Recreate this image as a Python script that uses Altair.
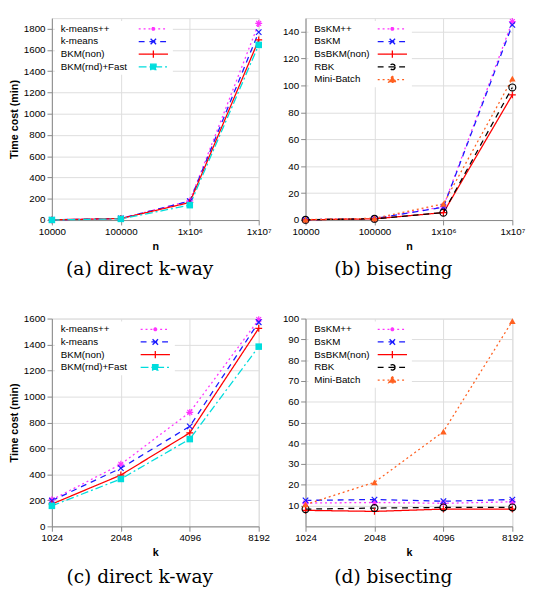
import altair as alt
import pandas as pd

# ---------------- data ----------------
n_values = [10000, 100000, 1000000, 10000000]
n_labels = ["10000", "100000", "1x10\u2076", "1x10\u2077"]
k_values = [1024, 2048, 4096, 8192]
k_labels = ["1024", "2048", "4096", "8192"]

direct_series = ["k-means++", "k-means", "BKM(non)", "BKM(rnd)+Fast"]
bisect_series = ["BsKM++", "BsKM", "BsBKM(non)", "RBK", "Mini-Batch"]

# (a) direct k-way, time vs n
a_kmeanspp = [2, 15, 180, 1850]
a_kmeans = [2, 15, 178, 1768]
a_bkm_non = [2, 14, 165, 1695]
a_bkm_fast = [1, 11, 140, 1648]

# (b) bisecting, time vs n
b_bskmpp = [0.2, 1.2, 10, 147.5]
b_bskm = [0.2, 1.1, 9.5, 145]
b_bsbkm_non = [0.2, 0.9, 5.5, 93]
b_rbk = [0.2, 0.9, 5.5, 98.5]
b_minibatch = [0.3, 1.3, 12, 105]

# (c) direct k-way, time vs k
c_kmeanspp = [205, 478, 878, 1592]
c_kmeans = [198, 448, 770, 1572]
c_bkm_non = [172, 395, 720, 1525]
c_bkm_fast = [158, 365, 672, 1384]

# (d) bisecting, time vs k
d_bskmpp = [11.2, 11.5, 11.1, 11.8]
d_bskm = [12.5, 12.9, 12.1, 12.9]
d_bsbkm_non = [7.7, 7.2, 8.3, 8.3]
d_rbk = [8.3, 8.8, 9.1, 9.1]
d_minibatch = [10.5, 21.2, 45.6, 98.8]

# ---------------- styles ----------------
ASTERISK = "M-1,0L1,0M0,-1L0,1M-0.7,-0.7L0.7,0.7M-0.7,0.7L0.7,-0.7"
XMARK = "M-0.8,-0.8L0.8,0.8M-0.8,0.8L0.8,-0.8"
PLUS = "M-1,0L1,0M0,-1L0,1"

# legend samples: a horizontal line with a small marker in its middle
_L = 3.0
_m = 0.75
_d = round(_m * 0.75, 3)
LEG_LINE = f"M-{_L},0L{_L},0"
LEG_ASTERISK = (LEG_LINE + f"M0,0L0,{_m}M0,0L0,-{_m}M0,0L{_d},{_d}M0,0L-{_d},-{_d}"
                f"M0,0L{_d},-{_d}M0,0L-{_d},{_d}M0,0L{_m},0M0,0L-{_m},0")
LEG_X = LEG_LINE + f"M0,0L{_d},{_d}M0,0L-{_d},-{_d}M0,0L{_d},-{_d}M0,0L-{_d},{_d}"
LEG_PLUS = LEG_LINE + f"M0,0L0,{_m}M0,0L0,-{_m}"
LEG_SQUARE = LEG_LINE + f"M-{_d},-{_d}L{_d},-{_d}L{_d},{_d}L-{_d},{_d}Z"
LEG_CIRCLE = LEG_LINE + f"M{_d},0A{_d},{_d} 0 1 1 -{_d},0A{_d},{_d} 0 1 1 {_d},0Z"
LEG_TRIANGLE = LEG_LINE + f"M0,-{_m}L{_m},{_d}L-{_m},{_d}Z"

direct_colors = ["#ff33ff", "#1a1aff", "#ff0000", "#00dddd"]
direct_dashes = [[2, 3], [6, 5], [1, 0], [8, 3, 2, 3]]
direct_shapes = [ASTERISK, XMARK, PLUS, "square"]
direct_legend_shapes = [LEG_ASTERISK, LEG_X, LEG_PLUS, LEG_SQUARE]
direct_filled = [False, False, False, True]

bisect_colors = ["#ff33ff", "#1a1aff", "#ff0000", "#000000", "#ff6020"]
bisect_dashes = [[2, 3], [6, 5], [1, 0], [6, 5], [2, 3]]
bisect_shapes = [ASTERISK, XMARK, PLUS, "circle", "triangle-up"]
bisect_legend_shapes = [LEG_ASTERISK, LEG_X, LEG_PLUS, LEG_CIRCLE, LEG_TRIANGLE]
bisect_filled = [False, False, False, False, True]

SANS = "Liberation Sans"
SERIF = "DejaVu Serif"
W = 212
SYM = 10


def label_expr(values, labels):
    expr = "datum.label"
    for v, l in reversed(list(zip(values, labels))):
        expr = f"datum.value == {v} ? '{l}' : ({expr})"
    return expr


def panel(xvals, xlabels, series, values, xscale, x_title, ydomain, yticks, ytitle,
          caption, colors, dashes, shapes, leg_shapes, filled, sym_offset, cap_offset,
          height):
    rows = []
    for s, vals in zip(series, values):
        for xv, yv in zip(xvals, vals):
            rows.append({"x": xv, "y": yv, "series": s})
    df = pd.DataFrame(rows)

    x = alt.X("x:Q", scale=xscale,
              axis=alt.Axis(values=xvals, labelExpr=label_expr(xvals, xlabels),
                            title=x_title, labelFlush=False, labelOverlap=False))
    y = alt.Y("y:Q", scale=alt.Scale(domain=ydomain, nice=False, zero=False),
              axis=alt.Axis(values=yticks, title=ytitle, format="d"))
    legend = alt.Legend(title=None, orient="top-left", offset=3, fillColor="white",
                        padding=2, symbolSize=SYM * SYM,
                        symbolStrokeWidth=1.3, symbolOffset=sym_offset,
                        symbolOpacity=1,
                        labelOffset={"expr": str(-(sym_offset + SYM) + 2)},
                        labelFontSize=10, labelFont=SANS,
                        labelColor="black", rowPadding=0, labelLimit=0)
    color = alt.Color("series:N", sort=series,
                      scale=alt.Scale(domain=series, range=colors), legend=legend)
    dash = alt.StrokeDash("series:N", sort=series,
                          scale=alt.Scale(domain=series, range=dashes), legend=legend)
    base = alt.Chart(df)
    layers = [base.mark_line(strokeWidth=1.3).encode(x=x, y=y, color=color, strokeDash=dash)]
    # empty layer that only feeds the legend its line+marker samples
    fills = [c if f else "transparent" for c, f in zip(colors, filled)]
    layers.append(base.transform_filter("false").mark_point(filled=False).encode(
        x=x, y=y, color=color, strokeDash=dash,
        shape=alt.Shape("series:N", sort=series,
                        scale=alt.Scale(domain=series, range=leg_shapes), legend=legend),
        fill=alt.Fill("series:N", sort=series,
                      scale=alt.Scale(domain=series, range=fills), legend=legend),
    ))
    for s, c, sh, f in zip(series, colors, shapes, filled):
        layers.append(
            base.transform_filter(alt.datum.series == s).mark_point(
                shape=sh, color=c, filled=f, size=45 if f else 50,
                strokeWidth=1.2, opacity=1,
            ).encode(x=x, y=y)
        )
    return alt.layer(*layers).properties(
        width=W, height=height,
        title=alt.TitleParams(caption, orient="bottom", anchor="middle", font=SERIF,
                              fontSize=19, fontWeight="normal", color="black",
                              dx=-16, offset=cap_offset),
    )


n_scale = alt.Scale(type="log", domain=[1e4, 1e7], nice=False)
k_scale = alt.Scale(type="log", base=2, domain=[1024, 8192], nice=False)

pa = panel(n_values, n_labels, direct_series,
           [a_kmeanspp, a_kmeans, a_bkm_non, a_bkm_fast],
           n_scale, "n", [0, 1900], list(range(0, 1801, 200)), "Time cost (min)",
           "(a)  direct k-way", direct_colors, direct_dashes, direct_shapes,
           direct_legend_shapes, direct_filled, 93, 9, 207)
pb = panel(n_values, n_labels, bisect_series,
           [b_bskmpp, b_bskm, b_bsbkm_non, b_rbk, b_minibatch],
           n_scale, "n", [0, 150], list(range(0, 141, 20)), None,
           "(b)  bisecting", bisect_colors, bisect_dashes, bisect_shapes,
           bisect_legend_shapes, bisect_filled, 78, 9, 207)
pc = panel(k_values, k_labels, direct_series,
           [c_kmeanspp, c_kmeans, c_bkm_non, c_bkm_fast],
           k_scale, "k", [0, 1600], list(range(0, 1601, 200)), "Time cost (min)",
           "(c)  direct k-way", direct_colors, direct_dashes, direct_shapes,
           direct_legend_shapes, direct_filled, 95, 11, 213)
pd_ = panel(k_values, k_labels, bisect_series,
            [d_bskmpp, d_bskm, d_bsbkm_non, d_rbk, d_minibatch],
            k_scale, "k", [0, 100], list(range(10, 101, 10)), None,
            "(d)  bisecting", bisect_colors, bisect_dashes, bisect_shapes,
            bisect_legend_shapes, bisect_filled, 78, 11, 213)

chart = alt.concat(pa, pb, pc, pd_, columns=2, spacing={"row": 101, "column": 48},
                   bounds="flush").resolve_scale(
    color="independent", strokeDash="independent", shape="independent",
    fill="independent",
).resolve_legend(color="independent", strokeDash="independent", shape="independent",
                 fill="independent").properties(
    padding={"left": 0, "top": 0, "right": 0, "bottom": 0}
).configure_view(stroke="black", strokeWidth=1).configure_axis(
    labelFont=SANS, labelFontSize=10, labelColor="black", labelPadding=3,
    titleFont=SANS, titleFontSize=10, titleFontWeight="normal", titleColor="black",
    titlePadding=4, ticks=False, domain=False,
    grid=True, gridColor="#444444", gridDash=[1, 2], gridWidth=0.8, gridOpacity=0.9,
).configure(background="white")

chart.save("out.html", embed_options={"renderer": "svg", "actions": False})
